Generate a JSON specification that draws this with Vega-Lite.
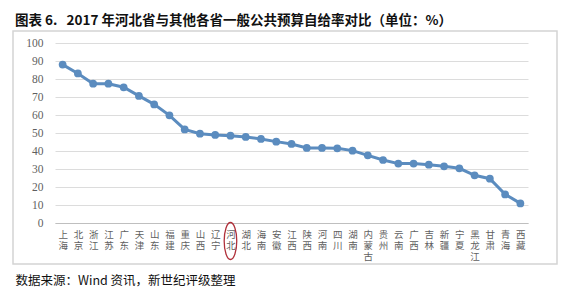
{
  "$schema": "https://vega.github.io/schema/vega-lite/v6.json",
  "autosize": {"type": "none"},
  "padding": {"left": 13, "top": 31, "right": 14, "bottom": 26},
  "width": 544,
  "height": 233,
  "background": "white",
  "title": {
    "text": "图表 6.\u00a0\u00a0\u00a02017 年河北省与其他各省一般公共预算自给率对比（单位：%）",
    "anchor": "start",
    "frame": "group",
    "dx": 2,
    "offset": 4,
    "font": "Noto Sans CJK SC",
    "fontSize": 13.5,
    "fontWeight": "bold",
    "color": "#111111"
  },
  "config": {
    "view": {"stroke": "#d4d4d4", "strokeWidth": 1.5},
    "axis": {"labelFont": "Noto Sans CJK SC", "labelColor": "#5f5f5f"}
  },
  "data": {
    "values": [
      {"province": "上海", "rate": 88.0},
      {"province": "北京", "rate": 83.1},
      {"province": "浙江", "rate": 77.4},
      {"province": "江苏", "rate": 77.4},
      {"province": "广东", "rate": 75.4},
      {"province": "天津", "rate": 70.6},
      {"province": "山东", "rate": 65.9},
      {"province": "福建", "rate": 59.8},
      {"province": "重庆", "rate": 52.0},
      {"province": "山西", "rate": 49.6},
      {"province": "辽宁", "rate": 48.9},
      {"province": "河北", "rate": 48.5},
      {"province": "湖北", "rate": 47.8},
      {"province": "海南", "rate": 46.7},
      {"province": "安徽", "rate": 45.2},
      {"province": "江西", "rate": 43.9},
      {"province": "陕西", "rate": 41.7},
      {"province": "河南", "rate": 41.7},
      {"province": "四川", "rate": 41.5},
      {"province": "湖南", "rate": 40.2},
      {"province": "内蒙古", "rate": 37.6},
      {"province": "贵州", "rate": 35.0},
      {"province": "云南", "rate": 33.0},
      {"province": "广西", "rate": 33.0},
      {"province": "吉林", "rate": 32.4},
      {"province": "新疆", "rate": 31.5},
      {"province": "宁夏", "rate": 30.4},
      {"province": "黑龙江", "rate": 26.5},
      {"province": "甘肃", "rate": 24.6},
      {"province": "青海", "rate": 15.9},
      {"province": "西藏", "rate": 10.9}
    ]
  },
  "encoding": {
    "x": {
      "field": "province",
      "type": "nominal",
      "sort": null,
      "scale": {"range": [42, 515], "paddingInner": 0, "paddingOuter": 0},
      "axis": {
        "offset": -41,
        "labelAngle": 0,
        "labelExpr": "split(datum.label, '')",
        "labelFontSize": 9.5,
        "labelLineHeight": 11,
        "labelBaseline": "top",
        "labelPadding": 6,
        "ticks": false,
        "domainColor": "#bfbfbf",
        "grid": false,
        "title": "数据来源：Wind 资讯，新世纪评级整理",
        "titleFont": "Noto Sans CJK SC",
        "titleFontSize": 12.5,
        "titleFontWeight": "normal",
        "titleColor": "#111111",
        "titleAnchor": "start",
        "titleAlign": "left",
        "titleBaseline": "middle",
        "titleX": 2,
        "titleY": 57
      }
    },
    "y": {
      "field": "rate",
      "type": "quantitative",
      "scale": {"domain": [0, 100], "range": [192, 12], "nice": false},
      "axis": {
        "offset": -42,
        "values": [0, 10, 20, 30, 40, 50, 60, 70, 80, 90, 100],
        "labelFont": "Liberation Serif",
        "labelFontSize": 11.5,
        "labelPadding": 12,
        "ticks": false,
        "domain": false,
        "gridColor": "#dcdcdc",
        "title": null
      }
    }
  },
  "layer": [
    {"mark": {"type": "line", "color": "#5b8cbf", "strokeWidth": 3}},
    {"mark": {"type": "point", "filled": true, "color": "#5b8cbf", "size": 60, "opacity": 1}},
    {
      "transform": [{"filter": "datum.province === '河北'"}],
      "mark": {
        "type": "point",
        "shape": "M -0.34 0 A 0.34 1 0 1 1 0.34 0 A 0.34 1 0 1 1 -0.34 0 Z",
        "filled": false,
        "stroke": "#b0303a",
        "strokeWidth": 1.3,
        "size": 1369,
        "opacity": 1,
        "yOffset": 18
      },
      "encoding": {"y": {"datum": 0}}
    }
  ]
}
